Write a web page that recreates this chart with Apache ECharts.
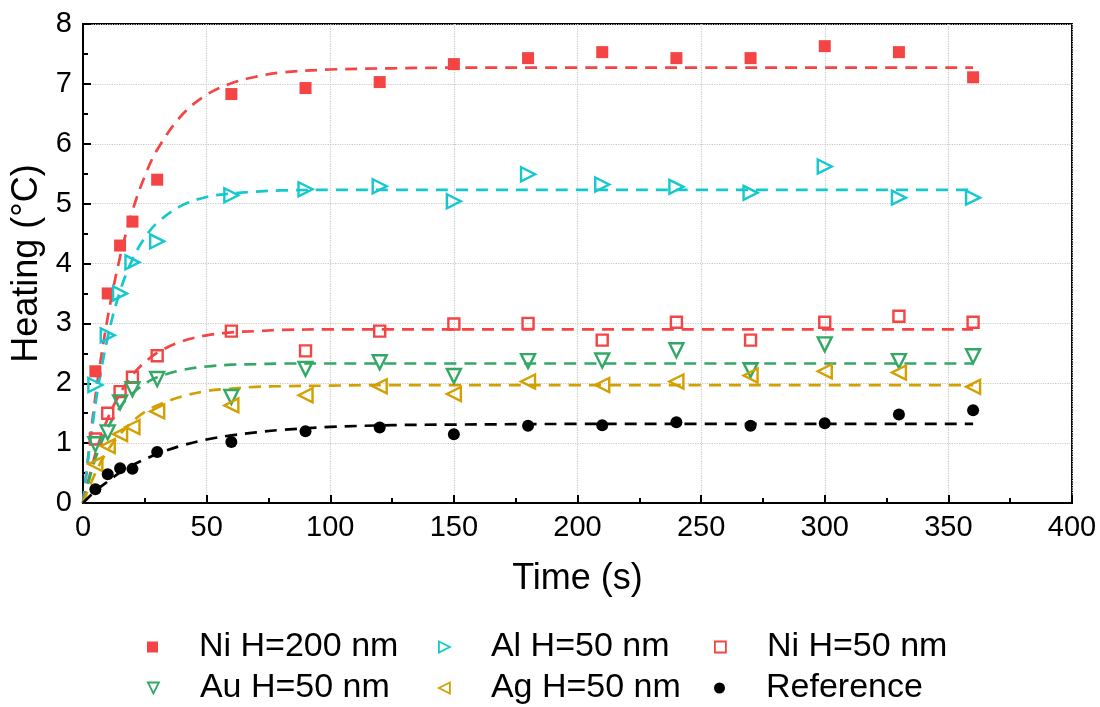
<!DOCTYPE html>
<html><head><meta charset="utf-8">
<script src="https://cdn.jsdelivr.net/npm/echarts@6/dist/echarts.min.js"></script>
<style>html,body{margin:0;padding:0;background:#fff}#c{width:1100px;height:707px}</style>
</head><body><div id="c"></div>
<script>
// measured points
const times = [5,10,15,20,30,60,90,120,150,180,210,240,270,300,330,360];
const niH200 = [2.2,3.5,4.3,4.7,5.4,6.83,6.93,7.03,7.33,7.43,7.53,7.43,7.43,7.63,7.53,7.11];
const alH50 = [1.97,2.8,3.5,4.02,4.37,5.14,5.24,5.29,5.04,5.49,5.32,5.28,5.18,5.62,5.1,5.1];
const niH50 = [1.07,1.5,1.86,2.1,2.46,2.87,2.54,2.87,2.99,3.0,2.72,3.02,2.72,3.02,3.12,3.02];
const auH50 = [0.98,1.18,1.68,1.9,2.07,1.77,2.24,2.35,2.12,2.37,2.38,2.55,2.22,2.65,2.37,2.45];
const agH50 = [0.65,0.95,1.15,1.27,1.53,1.63,1.8,1.95,1.82,2.03,1.97,2.03,2.13,2.2,2.18,1.94];
const reference = [0.23,0.48,0.58,0.57,0.85,1.02,1.2,1.26,1.15,1.29,1.3,1.35,1.29,1.33,1.48,1.55];

// dashed fit curves
const fitTimes = [0,5,10,15,20,25,30,40,50,60,70,80,100,125,150,200,250,300,360];
const fitNiH200 = [0,1.77,3.1,4.11,4.88,5.46,5.9,6.48,6.82,7.01,7.12,7.19,7.24,7.26,7.27,7.27,7.27,7.27,7.27];
const fitAlH50 = [0,1.64,2.77,3.54,4.07,4.43,4.68,4.97,5.11,5.17,5.2,5.22,5.23,5.23,5.23,5.23,5.23,5.23,5.23];
const fitNiH50 = [0,0.82,1.41,1.83,2.14,2.35,2.51,2.7,2.8,2.85,2.87,2.89,2.9,2.9,2.9,2.9,2.9,2.9,2.9];
const fitAuH50 = [0,0.74,1.25,1.6,1.83,1.99,2.1,2.22,2.28,2.31,2.32,2.33,2.33,2.33,2.33,2.33,2.33,2.33,2.33];
const fitAgH50 = [0,0.5,0.88,1.15,1.36,1.52,1.63,1.78,1.87,1.91,1.94,1.95,1.96,1.97,1.97,1.97,1.97,1.97,1.97];
const fitReference = [0,0.2,0.36,0.51,0.63,0.73,0.82,0.96,1.06,1.13,1.18,1.22,1.27,1.3,1.31,1.32,1.32,1.32,1.32];

const names = ['Ni H=200 nm','Al H=50 nm','Ni H=50 nm','Au H=50 nm','Ag H=50 nm','Reference'];
const xTicks = [0,50,100,150,200,250,300,350,400];
const yTicks = [0,1,2,3,4,5,6,7,8];

const RED='#F44444', CYAN='#14C8CE', GREEN='#33A865', GOLD='#D3A000', BLACK='#000000';
const pts = (ys) => times.map((t,i)=>[t,ys[i]]);
const fit = (ys) => fitTimes.map((t,i)=>[t,ys[i]]);
const FONT = "'Liberation Sans', Arial, sans-serif";

const TRI_R = 'path://M0,0L10,5L0,10Z';
const TRI_D = 'path://M0,0L10,0L5,10Z';
const TRI_L = 'path://M10,0L0,5L10,10Z';

function scatter(name, ys, color, symbol, size, filled) {
  return {
    name, type:'scatter', data: pts(ys), symbol, symbolSize:size, symbolKeepAspect:true, z:5,
    itemStyle: filled ? {color, opacity:1} : {color:'rgba(255,255,255,0)', borderColor:color, borderWidth:2.4, opacity:1}
  };
}
function fitLine(name, ys, color) {
  return {
    name, type:'line', data: fit(ys), showSymbol:false, symbol:'none', smooth:0.35, z:3,
    lineStyle:{color, width:2.7, type:[12,8]}, itemStyle:{color}, silent:true
  };
}

const legendPos = [[153,647],[444,647],[720,647],[153,688],[444,688],[720,688]];
const legends = names.map((n,i)=>({
  data:[n], left: legendPos[i][0]-6, top: legendPos[i][1]-19, padding:0,
  itemWidth:11, itemHeight:11, itemGap:0,
  itemStyle:{borderWidth:1.8},
  textStyle:{fontSize:34, lineHeight:38, color:'#000', fontFamily:FONT, padding:[0,0,0,36]}
}));

const chart = echarts.init(document.getElementById('c'), null, {renderer:'canvas'});
chart.setOption({
  animation:false,
  backgroundColor:'#fff',
  grid:{left:83, right:28, top:24, bottom:204, show:true, borderColor:'#000', borderWidth:2, backgroundColor:'transparent'},
  legend: legends,
  xAxis:{
    type:'value', min:xTicks[0], max:xTicks[xTicks.length-1], interval:50,
    name:'Time (s)', nameLocation:'middle', nameGap:58,
    nameTextStyle:{fontSize:36, color:'#000', fontFamily:FONT},
    axisLine:{show:true, onZero:false, lineStyle:{color:'#000', width:2}},
    axisTick:{show:true, inside:true, length:8, lineStyle:{color:'#000', width:2}},
    minorTick:{show:true, splitNumber:2, length:5, lineStyle:{color:'#000', width:2}},
    axisLabel:{fontSize:29, color:'#000', margin:10, fontFamily:FONT},
    splitLine:{show:true, lineStyle:{color:'#c8c8c8', type:'dotted', width:1.2}}
  },
  yAxis:{
    type:'value', min:yTicks[0], max:yTicks[yTicks.length-1], interval:1,
    name:'Heating (°C)', nameLocation:'middle', nameGap:38,
    nameTextStyle:{fontSize:36, color:'#000', fontFamily:FONT},
    axisLine:{show:true, onZero:false, lineStyle:{color:'#000', width:2}},
    axisTick:{show:true, inside:true, length:8, lineStyle:{color:'#000', width:2}},
    minorTick:{show:true, splitNumber:2, length:5, lineStyle:{color:'#000', width:2}},
    axisLabel:{fontSize:29, color:'#000', margin:11, fontFamily:FONT},
    splitLine:{show:true, lineStyle:{color:'#c8c8c8', type:'dotted', width:1.2}}
  },
  series:[
    fitLine('fit1', fitNiH200, RED),
    fitLine('fit2', fitAlH50, CYAN),
    fitLine('fit3', fitNiH50, RED),
    fitLine('fit4', fitAuH50, GREEN),
    fitLine('fit5', fitAgH50, GOLD),
    fitLine('fit6', fitReference, BLACK),
    scatter(names[0], niH200, RED, 'rect', 12, true),
    scatter(names[1], alH50, CYAN, TRI_R, 14, false),
    scatter(names[2], niH50, RED, 'rect', 11, false),
    scatter(names[3], auH50, GREEN, TRI_D, 14, false),
    scatter(names[4], agH50, GOLD, TRI_L, 14, false),
    scatter(names[5], reference, BLACK, 'circle', 12, true)
  ]
});
</script>
</body></html>
